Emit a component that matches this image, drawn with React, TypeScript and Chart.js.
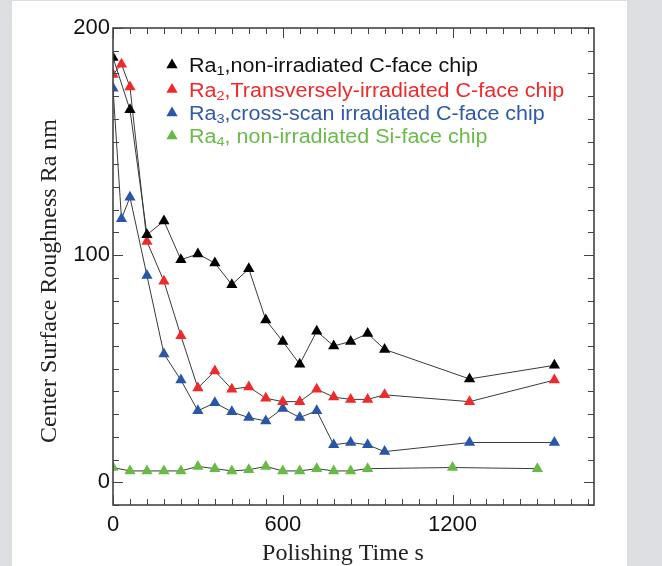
import { useEffect, useRef } from 'react';
import { Chart, registerables } from 'chart.js';
Chart.register(...registerables);

// Polishing time (s) for each series
const times1 = [0, 60, 120, 180, 240, 300, 360, 420, 480, 540, 600, 660, 720, 780, 840, 900, 960, 1260, 1560];
const ra1 = [187, 164, 109, 115, 98, 100.5, 96.5, 87, 94, 71.5, 62, 52, 66.5, 60, 62, 65.5, 58.5, 45.5, 51.5];

const times23 = [0, 30, 60, 120, 180, 240, 300, 360, 420, 480, 540, 600, 660, 720, 780, 840, 900, 960, 1260, 1560];
const ra2 = [179.5, 184, 174, 106, 88.5, 64.5, 41.5, 49, 41, 42, 37, 35.5, 35.5, 41, 37.5, 36.5, 36.5, 38.5, 35.5, 45];
const ra3 = [173.5, 116, 125.5, 91, 56.5, 45, 31.5, 35, 31, 28.5, 27, 32.5, 28.5, 31.5, 16.5, 17.5, 16.5, 13.5, 17.5, 17.5];

const times4 = [0, 60, 120, 180, 240, 300, 360, 420, 480, 540, 600, 660, 720, 780, 840, 900, 1200, 1500];
const ra4 = [6.5, 5, 5, 5, 5, 7, 6, 5, 5.5, 7, 5, 5, 6, 5, 5, 6, 6.5, 6];

const xMajorLabels = [0, 600, 1200];
const yMajorLabels = [0, 100, 200];

const legendItems = [
  { pre: 'Ra', sub: '1', post: ',non-irradiated C-face chip', color: '#000000', text: '#111111' },
  { pre: 'Ra', sub: '2', post: ',Transversely-irradiated C-face chip', color: '#ee2a2a', text: '#ee2a2a' },
  { pre: 'Ra', sub: '3', post: ',cross-scan irradiated C-face chip', color: '#2857a8', text: '#2f5aa8' },
  { pre: 'Ra', sub: '4', post: ', non-irradiated Si-face chip', color: '#67bb45', text: '#6abb48' },
];

const xTitle = 'Polishing Time s';
const yTitle = 'Center Surface Roughness Ra nm';

function pts(xs: number[], ys: number[]) {
  return xs.map((x, i) => ({ x, y: ys[i] }));
}

const decorPlugin = {
  id: 'decor',
  afterDraw(chart: any) {
    const { ctx, chartArea, scales } = chart;
    const { left, right, top, bottom } = chartArea;
    const x = scales.x;
    const y = scales.y;
    ctx.save();
    // frame
    ctx.strokeStyle = '#444444';
    ctx.lineWidth = 1.6;
    ctx.strokeRect(left, top, right - left, bottom - top);
    // ticks (inward)
    ctx.lineWidth = 1;
    ctx.beginPath();
    x.ticks.forEach((t: any) => {
      const px = Math.round(x.getPixelForValue(t.value)) + 0.5;
      const len = t.value % 600 === 0 ? 10 : 6;
      ctx.moveTo(px, bottom);
      ctx.lineTo(px, bottom - len);
      ctx.moveTo(px, top);
      ctx.lineTo(px, top + len);
    });
    y.ticks.forEach((t: any) => {
      const py = Math.round(y.getPixelForValue(t.value)) + 0.5;
      const len = t.value % 100 === 0 ? 10 : 6;
      ctx.moveTo(left, py);
      ctx.lineTo(left + len, py);
      ctx.moveTo(right, py);
      ctx.lineTo(right - len, py);
    });
    ctx.stroke();

    // legend
    const rows = [65, 89.5, 113, 136];
    const sx = 1.075;
    legendItems.forEach((it, i) => {
      const cy = rows[i];
      const mx = 172;
      const r = 6.5;
      ctx.fillStyle = it.color;
      ctx.beginPath();
      ctx.moveTo(mx, cy - r);
      ctx.lineTo(mx + r * 0.866, cy + r / 2);
      ctx.lineTo(mx - r * 0.866, cy + r / 2);
      ctx.closePath();
      ctx.fill();
      ctx.save();
      ctx.translate(189, cy + 7);
      ctx.scale(sx, 1);
      ctx.fillStyle = it.text;
      ctx.textBaseline = 'alphabetic';
      ctx.textAlign = 'left';
      let tx = 0;
      ctx.font = '20px "Liberation Sans", Arial, sans-serif';
      ctx.fillText(it.pre, tx, 0);
      tx += ctx.measureText(it.pre).width;
      ctx.font = '13.5px "Liberation Sans", Arial, sans-serif';
      ctx.fillText(it.sub, tx, 3);
      tx += ctx.measureText(it.sub).width;
      ctx.font = '20px "Liberation Sans", Arial, sans-serif';
      ctx.fillText(it.post, tx, 0);
      ctx.restore();
    });

    // axis titles
    ctx.fillStyle = '#222222';
    ctx.font = '24px "Liberation Serif", "Times New Roman", serif';
    ctx.textAlign = 'center';
    ctx.textBaseline = 'middle';
    ctx.fillText(xTitle, 343, 554);
    ctx.save();
    ctx.translate(50, 281);
    ctx.rotate(-Math.PI / 2);
    ctx.fillText(yTitle, 0, 0);
    ctx.restore();
    ctx.restore();
  },
};

export default function App() {
  const ref = useRef<HTMLCanvasElement | null>(null);
  useEffect(() => {
    if (!ref.current) return;
    const lineColor = '#3a3a3a';
    const mk = (label: string, data: any, color: string) => ({
      label,
      data,
      borderColor: lineColor,
      borderWidth: 1,
      backgroundColor: color,
      pointBackgroundColor: color,
      pointBorderColor: color,
      pointBorderWidth: 0,
      pointStyle: 'triangle',
      pointRadius: 6.5,
      pointHoverRadius: 6.5,
      showLine: true,
      tension: 0,
      fill: false,
    });
    const chart = new Chart(ref.current, {
      type: 'scatter',
      data: {
        datasets: [
          mk('Ra1', pts(times1, ra1), legendItems[0].color),
          mk('Ra2', pts(times23, ra2), legendItems[1].color),
          mk('Ra3', pts(times23, ra3), legendItems[2].color),
          mk('Ra4', pts(times4, ra4), legendItems[3].color),
        ],
      },
      options: {
        animation: false,
        responsive: false,
        devicePixelRatio: 1,
        layout: { padding: { left: 0, top: 28, right: 68, bottom: 0 } },
        plugins: { legend: { display: false }, tooltip: { enabled: false } },
        scales: {
          x: {
            type: 'linear',
            min: 0,
            max: 1700,
            grid: { display: false, drawTicks: false },
            border: { display: false },
            afterFit: (s: any) => { s.height = 61; },
            ticks: {
              stepSize: 60,
              autoSkip: false,
              includeBounds: false,
              maxRotation: 0,
              padding: 7,
              color: '#111111',
              font: { family: '"Liberation Sans", Arial, sans-serif', size: 22 },
              callback: (v: any) => (xMajorLabels.includes(Number(v)) ? String(v) : ''),
            },
          },
          y: {
            type: 'linear',
            min: -10,
            max: 200,
            grid: { display: false, drawTicks: false },
            border: { display: false },
            afterFit: (s: any) => { s.width = 113; },
            ticks: {
              stepSize: 10,
              autoSkip: false,
              padding: 3,
              color: '#111111',
              font: { family: '"Liberation Sans", Arial, sans-serif', size: 22 },
              callback: (v: any) => (yMajorLabels.includes(Number(v)) ? String(v) : ''),
            },
          },
        },
      },
      plugins: [decorPlugin],
    } as any);
    return () => chart.destroy();
  }, []);
  return (
    <div style={{ position: 'fixed', left: 0, top: 0, width: 662, height: 566, background: '#dddee1', overflow: 'hidden' }}>
      <div style={{ position: 'absolute', left: 12, top: 1, width: 615, height: 570, background: '#ffffff' }} />
      <canvas ref={ref} width={662} height={566} style={{ position: 'absolute', left: 0, top: 0, width: 662, height: 566 }} />
    </div>
  );
}
